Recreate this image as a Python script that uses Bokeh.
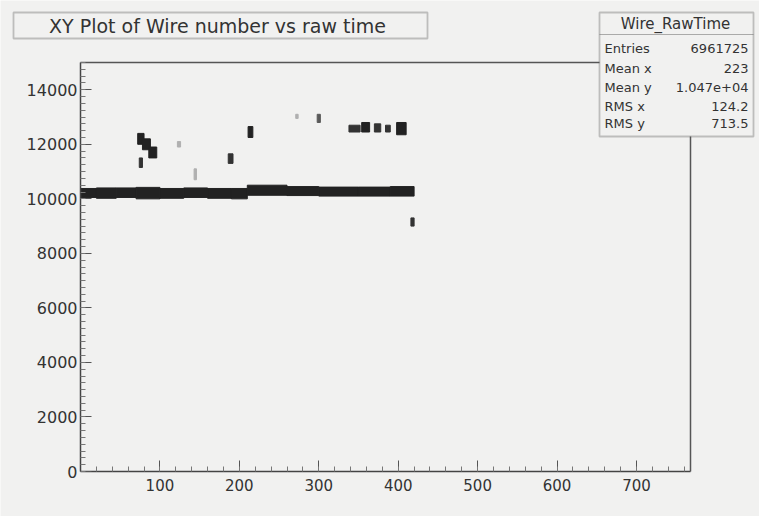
from bokeh.plotting import figure
from bokeh.models import (Range1d, BoxAnnotation, Label, ColumnDataSource, LinearAxis,
                          SingleIntervalTicker, LinearColorMapper)
from bokeh.transform import transform
from bokeh.embed import file_html
from bokeh.resources import INLINE

# ---- data ----
title_text = "XY Plot of Wire number vs raw time"
stats_name = "Wire_RawTime"
stats_labels = ["Entries", "Mean x", "Mean y", "RMS x", "RMS y"]
stats_values = ["6961725", "223", "1.047e+04", "124.2", "713.5"]

# main band of hits (wire range and raw-time range of each stretch)
band_x0 = [0, 20, 45, 70, 100, 130, 160, 190, 210, 260, 300, 350, 390]
band_x1 = [20, 45, 70, 100, 130, 160, 190, 210, 260, 300, 350, 390, 420]
band_lo = [10050, 10020, 10050, 10000, 10020, 10050, 10020, 10000, 10130, 10120, 10100, 10100, 10100]
band_hi = [10380, 10400, 10400, 10420, 10380, 10400, 10380, 10380, 10500, 10450, 10430, 10430, 10450]
band_counts = [90, 95, 90, 100, 95, 90, 95, 95, 100, 95, 95, 95, 100]

# isolated clusters of hits
clu_x0 = [72, 78, 86, 74, 122, 143, 186, 211, 271, 298, 338, 354, 370, 384, 398, 416]
clu_x1 = [80, 88, 96, 78, 126, 146, 192, 217, 274, 302, 352, 364, 378, 390, 410, 420]
clu_lo = [12000, 11800, 11500, 11150, 11900, 10700, 11300, 12250, 12950, 12800, 12450, 12450, 12450, 12450, 12350, 9000]
clu_hi = [12400, 12200, 11900, 11500, 12100, 11100, 11650, 12650, 13100, 13100, 12700, 12800, 12750, 12700, 12800, 9300]
clu_counts = [85, 90, 85, 80, 25, 30, 70, 90, 25, 65, 80, 85, 80, 80, 85, 80]

# histogram axis limits
x_start, x_end = 0, 768
y_start, y_end = 0, 15000

# ---- layout geometry (pixels) ----
W, H = 759, 516
hist_left_px, hist_right_px = 80, 690
hist_top_px, hist_bottom_px = 62, 471
sx = (x_end - x_start) / (hist_right_px - hist_left_px)
sy = (y_end - y_start) / (hist_bottom_px - hist_top_px)
view_x = (x_start - hist_left_px * sx, x_end + (W - hist_right_px) * sx)
view_y = (y_start - (H - hist_bottom_px) * sy, y_end + hist_top_px * sy)

bg = "#f1f1f0"
ink = "#333333"
p = figure(width=W, height=H, output_backend="svg", toolbar_location=None,
           x_range=Range1d(*view_x), y_range=Range1d(*view_y),
           x_axis_location=None, y_axis_location=None,
           min_border=0)
p.background_fill_color = bg
p.border_fill_color = bg
p.outline_line_color = None
p.grid.visible = False

# histogram frame (top and right edges)
p.segment(x0=[x_start, x_end], y0=[y_end, y_start], x1=[x_end, x_end], y1=[y_end, y_end],
          line_color="#555555", line_width=1.5)

mapper = LinearColorMapper(palette=["#d8d8d8", "#b0b0b0", "#888888", "#5a5a5a", "#333333", "#222222"],
                           low=0, high=100)

band_src = ColumnDataSource(dict(x0=band_x0, x1=band_x1, lo=band_lo, hi=band_hi, c=band_counts))
clu_src = ColumnDataSource(dict(x0=clu_x0, x1=clu_x1, lo=clu_lo, hi=clu_hi, c=clu_counts))
p.quad(left="x0", right="x1", bottom="lo", top="hi", source=band_src,
       fill_color=transform("c", mapper), line_color=transform("c", mapper), line_width=1)
p.quad(left="x0", right="x1", bottom="lo", top="hi", source=clu_src,
       fill_color=transform("c", mapper), line_color=transform("c", mapper), line_width=1)

xaxis = LinearAxis(fixed_location=y_start, bounds=(x_start, x_end),
                   ticker=SingleIntervalTicker(interval=100, num_minor_ticks=5))
yaxis = LinearAxis(fixed_location=x_start, bounds=(y_start, y_end),
                   ticker=SingleIntervalTicker(interval=2000, num_minor_ticks=8))
for ax in (xaxis, yaxis):
    ax.axis_line_color = "#444444"
    ax.axis_line_width = 1.5
    ax.major_tick_in = 11
    ax.major_tick_out = 0
    ax.minor_tick_in = 5
    ax.minor_tick_out = 0
    ax.major_tick_line_color = "#555555"
    ax.minor_tick_line_color = "#777777"
    ax.major_label_text_font = "DejaVu Sans"
    ax.major_label_text_font_size = "15px"
    ax.major_label_text_color = ink
yaxis.major_label_text_font_size = "16px"
xaxis.major_label_overrides = {0: ""}
xaxis.major_label_standoff = 7
yaxis.major_label_standoff = 3
p.add_layout(xaxis, "below")
p.add_layout(yaxis, "left")

# ---- title box ----
p.add_layout(BoxAnnotation(left=13, right=427, top=12, bottom=38,
                           left_units="canvas", right_units="canvas",
                           top_units="canvas", bottom_units="canvas",
                           fill_color=bg, fill_alpha=1, line_color="#444444", line_width=1.8))
p.add_layout(Label(x=217, y=25, x_units="canvas", y_units="canvas", text=title_text,
                   text_align="center", text_baseline="middle",
                   text_font="DejaVu Sans", text_font_size="19px", text_color=ink))

# ---- stats box ----
p.add_layout(BoxAnnotation(left=599, right=753, top=12, bottom=136,
                           left_units="canvas", right_units="canvas",
                           top_units="canvas", bottom_units="canvas",
                           fill_color=bg, fill_alpha=1, line_color="#444444", line_width=1.8))
p.add_layout(BoxAnnotation(left=599, right=753, top=34, bottom=34,
                           left_units="canvas", right_units="canvas",
                           top_units="canvas", bottom_units="canvas",
                           fill_alpha=0, line_color="#666666", line_width=1))
p.add_layout(Label(x=675, y=23, x_units="canvas", y_units="canvas", text=stats_name,
                   text_align="center", text_baseline="middle",
                   text_font="DejaVu Sans", text_font_size="15px", text_color=ink))
row_y = [48, 68, 87, 106, 123]
for lab, val, yy in zip(stats_labels, stats_values, row_y):
    p.add_layout(Label(x=604, y=yy, x_units="canvas", y_units="canvas", text=lab,
                       text_align="left", text_baseline="middle",
                       text_font="DejaVu Sans", text_font_size="13px", text_color=ink))
    p.add_layout(Label(x=748, y=yy, x_units="canvas", y_units="canvas", text=val,
                       text_align="right", text_baseline="middle",
                       text_font="DejaVu Sans", text_font_size="13px", text_color=ink))

open("out.html", "w").write(file_html(p, INLINE))
